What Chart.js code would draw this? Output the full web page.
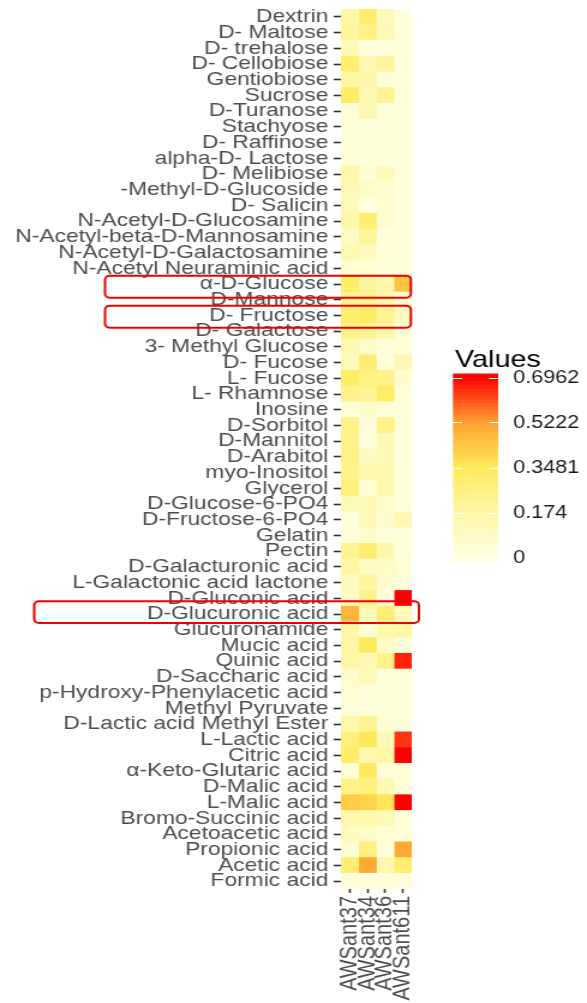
<!DOCTYPE html>
<html>
<head>
<meta charset="utf-8">
<script src="https://cdn.jsdelivr.net/npm/chart.js@4.4.1/dist/chart.umd.min.js"></script>
<style>
  html, body { margin: 0; padding: 0; background: #ffffff; overflow: hidden; }
  #wrap { width: 489px; height: 1003px; transform: scaleX(1.2004); transform-origin: 0 0; }
</style>
</head>
<body>
<div id="wrap"><canvas id="heat"></canvas></div>
<script>
// Carbon sources (rows, top to bottom)
const substrates = [
  'Dextrin', 'D- Maltose', 'D- trehalose', 'D- Cellobiose', 'Gentiobiose', 'Sucrose',
  'D-Turanose', 'Stachyose', 'D- Raffinose', 'alpha-D- Lactose', 'D- Melibiose',
  '-Methyl-D-Glucoside', 'D- Salicin', 'N-Acetyl-D-Glucosamine', 'N-Acetyl-beta-D-Mannosamine',
  'N-Acetyl-D-Galactosamine', 'N-Acetyl Neuraminic acid', 'α-D-Glucose', 'D-Mannose',
  'D- Fructose', 'D- Galactose', '3- Methyl Glucose', 'D- Fucose', 'L- Fucose', 'L- Rhamnose',
  'Inosine', 'D-Sorbitol', 'D-Mannitol', 'D-Arabitol', 'myo-Inositol', 'Glycerol',
  'D-Glucose-6-PO4', 'D-Fructose-6-PO4', 'Gelatin', 'Pectin', 'D-Galacturonic acid',
  'L-Galactonic acid lactone', 'D-Gluconic acid', 'D-Glucuronic acid', 'Glucuronamide',
  'Mucic acid', 'Quinic acid', 'D-Saccharic acid', 'p-Hydroxy-Phenylacetic acid',
  'Methyl Pyruvate', 'D-Lactic acid Methyl Ester', 'L-Lactic acid', 'Citric acid',
  'α-Keto-Glutaric acid', 'D-Malic acid', 'L-Malic acid', 'Bromo-Succinic acid',
  'Acetoacetic acid', 'Propionic acid', 'Acetic acid', 'Formic acid'
];

// Strains (columns, left to right)
const strains = ['AWSant37', 'AWSant34', 'AWSant36', 'AWSant611'];

// Utilisation values per strain, one entry per substrate
const ant37 = [
  0.17, 0.20, 0.12, 0.30, 0.18, 0.32, 0.04, 0.02, 0.02, 0.05, 0.17, 0.13, 0.13, 0.17,
  0.08, 0.14, 0.05, 0.32, 0.22, 0.30, 0.24, 0.15, 0.12, 0.32, 0.24, 0.03, 0.24, 0.24,
  0.25, 0.24, 0.27, 0.13, 0.02, 0.02, 0.22, 0.18, 0.11, 0.09, 0.47, 0.18, 0.18, 0.18,
  0.06, 0.05, 0.02, 0.16, 0.27, 0.32, 0.04, 0.24, 0.42, 0.16, 0.11, 0.04, 0.29, 0.03
];
const ant34 = [
  0.30, 0.25, 0.02, 0.14, 0.17, 0.13, 0.15, 0.02, 0.02, 0.02, 0.05, 0.08, 0.01, 0.30,
  0.20, 0.11, 0.05, 0.20, 0.22, 0.32, 0.22, 0.07, 0.30, 0.25, 0.22, 0.07, 0.03, 0.02,
  0.10, 0.16, 0.05, 0.13, 0.13, 0.06, 0.30, 0.09, 0.19, 0.24, 0.13, 0.03, 0.34, 0.13,
  0.13, 0.02, 0.02, 0.22, 0.35, 0.15, 0.33, 0.27, 0.40, 0.16, 0.08, 0.27, 0.50, 0.03
];
const ant36 = [
  0.12, 0.13, 0.02, 0.20, 0.03, 0.22, 0.02, 0.02, 0.02, 0.02, 0.12, 0.06, 0.06, 0.06,
  0.03, 0.03, 0.02, 0.17, 0.16, 0.22, 0.18, 0.02, 0.03, 0.24, 0.32, 0.03, 0.24, 0.13,
  0.13, 0.16, 0.16, 0.07, 0.07, 0.02, 0.17, 0.09, 0.06, 0.02, 0.29, 0.16, 0.09, 0.24,
  0.02, 0.02, 0.02, 0.05, 0.13, 0.18, 0.04, 0.14, 0.36, 0.13, 0.05, 0.03, 0.16, 0.03
];
const ant611 = [
  0.02, 0.02, 0.02, 0.02, 0.02, 0.02, 0.02, 0.02, 0.02, 0.02, 0.02, 0.02, 0.02, 0.02,
  0.02, 0.02, 0.02, 0.44, 0.05, 0.10, 0.03, 0.03, 0.14, 0.06, 0.03, 0.02, 0.02, 0.02,
  0.02, 0.02, 0.02, 0.02, 0.14, 0.02, 0.02, 0.04, 0.02, 0.6962, 0.11, 0.18, 0.02, 0.66,
  0.02, 0.02, 0.02, 0.02, 0.64, 0.6962, 0.03, 0.03, 0.6962, 0.03, 0.03, 0.50, 0.30, 0.03
];
const strainValues = [ant37, ant34, ant36, ant611];

// Colour bar
const legendTitle = 'Values';
const legendTicks = [0, 0.174, 0.3481, 0.5222, 0.6962];
const valueMax = 0.6962;

// Rows outlined in red
const highlighted = ['α-D-Glucose', 'D- Fructose', 'D-Glucuronic acid'];

const FONT = "'Liberation Sans', Arial, Helvetica, sans-serif";

// light yellow -> yellow -> orange -> red
const colorStops = [
  [0.0,    [255, 255, 226]],
  [0.174,  [255, 247, 168]],
  [0.3481, [255, 234, 90]],
  [0.5222, [255, 160, 48]],
  [0.6962, [255, 0, 0]]
];
function fillColor(v) {
  v = Math.max(colorStops[0][0], Math.min(colorStops[colorStops.length - 1][0], v));
  for (let i = 1; i < colorStops.length; i++) {
    const [v1, c1] = colorStops[i];
    const [v0, c0] = colorStops[i - 1];
    if (v <= v1) {
      const t = (v - v0) / (v1 - v0);
      const c = c0.map((a, k) => Math.round(a + (c1[k] - a) * t));
      return `rgb(${c[0]},${c[1]},${c[2]})`;
    }
  }
  return 'rgb(255,0,0)';
}

// one floating horizontal bar per cell: spans [column, column + 1] on the x scale
const datasets = strains.map((name, c) => ({
  label: name,
  data: substrates.map(() => [c, c + 1]),
  backgroundColor: strainValues[c].map(fillColor),
  borderWidth: 0,
  barPercentage: 1,
  categoryPercentage: 1,
  grouped: false
}));

const colourBar = {
  id: 'colourBar',
  afterDraw(chart) {
    const ctx = chart.ctx;
    const left = 377.5, width = 37.5;
    const yTop = 377.5, yBottom = 557.5;          // positions of max and 0
    const ext = 4;                                // bar runs slightly past the limits
    const yOf = v => yBottom - (v / valueMax) * (yBottom - yTop);
    ctx.save();
    const steps = 240;
    const span = (yBottom + ext) - (yTop - ext);
    for (let i = 0; i < steps; i++) {
      const y0 = yTop - ext + span * i / steps;
      const yMid = y0 + span / steps / 2;
      const v = (yBottom - yMid) / (yBottom - yTop) * valueMax;
      ctx.fillStyle = fillColor(v);
      ctx.fillRect(left, y0, width, span / steps + 0.6);
    }
    ctx.strokeStyle = '#ffffff';
    ctx.lineWidth = 1;
    legendTicks.forEach(t => {
      const y = Math.round(yOf(t)) + 0.5;
      ctx.beginPath();
      ctx.moveTo(left, y); ctx.lineTo(left + 7.5, y);
      ctx.moveTo(left + width - 7.5, y); ctx.lineTo(left + width, y);
      ctx.stroke();
    });
    ctx.fillStyle = '#1a1a1a';
    ctx.font = `18px ${FONT}`;
    ctx.textAlign = 'left';
    ctx.textBaseline = 'middle';
    legendTicks.forEach(t => ctx.fillText(String(t), 427.5, yOf(t) + 1));
    ctx.fillStyle = '#000000';
    ctx.font = `24px ${FONT}`;
    ctx.textBaseline = 'alphabetic';
    ctx.fillText(legendTitle, 379, 366.5);
    ctx.restore();
  }
};

const rowBoxes = {
  id: 'rowBoxes',
  afterDraw(chart) {
    const ctx = chart.ctx;
    const ys = chart.scales.y;
    const boxes = [
      { row: highlighted[0], left: 87.5, right: 342.3, shift: 2.8, h: 22 },
      { row: highlighted[1], left: 87.5, right: 342.3, shift: 1.3, h: 22 },
      { row: highlighted[2], left: 28.5, right: 349.0, shift: -1.9, h: 21.6 }
    ];
    ctx.save();
    ctx.strokeStyle = '#ee0000';
    ctx.lineWidth = 2;
    boxes.forEach(b => {
      const cy = ys.getPixelForValue(substrates.indexOf(b.row)) + b.shift;
      ctx.beginPath();
      ctx.roundRect(b.left, cy - b.h / 2, b.right - b.left, b.h, 4);
      ctx.stroke();
    });
    ctx.restore();
  }
};

new Chart(document.getElementById('heat'), {
  type: 'bar',
  data: { labels: substrates, datasets },
  options: {
    indexAxis: 'y',
    responsive: true,
    maintainAspectRatio: false,
    animation: false,
    events: [],
    layout: { padding: { left: 0, right: 146, top: 9, bottom: 0 } },
    plugins: { legend: { display: false }, tooltip: { enabled: false } },
    scales: {
      y: {
        type: 'category',
        offset: true,
        grid: { offset: false, drawOnChartArea: false, tickLength: 6, tickColor: '#333333', tickWidth: 1.6 },
        border: { display: false },
        ticks: { autoSkip: false, padding: 4.5, color: '#4d4d4d', font: { family: FONT, size: 19 } },
        afterFit(s) { s.width = 284; s.paddingTop = 0; s.paddingBottom = 0; }
      },
      x: {
        type: 'linear',
        min: 0,
        max: strains.length,
        grid: { drawOnChartArea: false, tickLength: 4, tickColor: '#333333', tickWidth: 1.6 },
        border: { display: false },
        afterBuildTicks(s) { s.ticks = strains.map((_, i) => ({ value: i + 0.5 })); },
        ticks: {
          autoSkip: false, minRotation: 90, maxRotation: 90, padding: 3,
          color: '#4d4d4d', font: { family: FONT, size: 20 },
          callback: v => strains[Math.floor(v)]
        },
        afterFit(s) { s.height = 114; s.paddingLeft = 0; s.paddingRight = 0; }
      }
    }
  },
  plugins: [colourBar, rowBoxes]
});
</script>
</body>
</html>
